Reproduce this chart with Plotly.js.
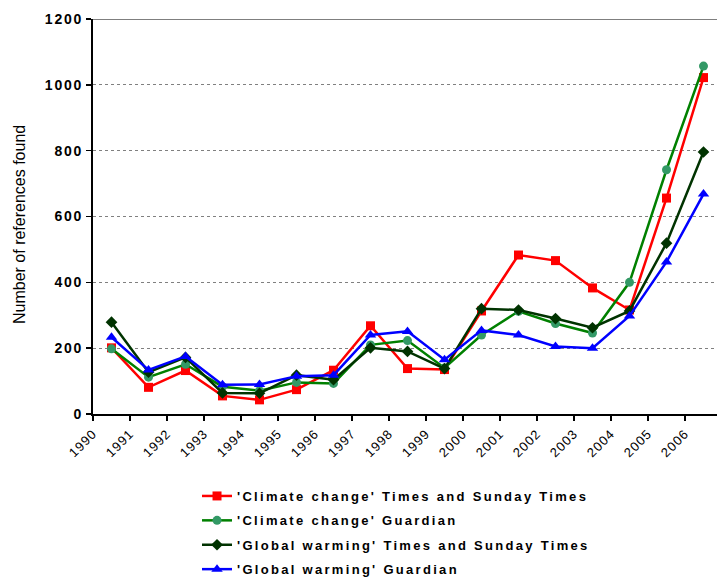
<!DOCTYPE html>
<html><head><meta charset="utf-8">
<script src="https://cdn.plot.ly/plotly-3.0.1.min.js"></script>
<style>
html,body{margin:0;padding:0;overflow:hidden;background:#fff}
#chart{width:717px;height:577px}
.legendtext{letter-spacing:2.3px}
.ytick text{letter-spacing:1.8px}
.xtick text{letter-spacing:1px}
</style></head>
<body><div id="chart"></div>
<script>
const years = [1990,1991,1992,1993,1994,1995,1996,1997,1998,1999,2000,2001,2002,2003,2004,2005,2006];
const tickLabels = years.map(String);
const ccTimes    = [201, 81, 132, 55, 43, 74, 133, 268, 138, 135, 313, 483, 466, 383, 316, 656, 1022];
const ccGuardian = [198, 112, 151, 83, 71, 96, 93, 210, 223, 140, 240, 312, 275, 246, 400, 742, 1057];
const gwTimes    = [279, 127, 172, 64, 63, 118, 104, 201, 190, 138, 320, 316, 290, 262, 313, 519, 796];
const gwGuardian = [233, 134, 175, 89, 90, 115, 118, 240, 251, 165, 254, 240, 205, 200, 298, 462, 668];
const names = ["'Climate change' Times and Sunday Times","'Climate change' Guardian","'Global warming' Times and Sunday Times","'Global warming' Guardian"];
const yTitle = 'Number of references found';

const FONT = 'Liberation Sans, Arial, sans-serif';
const xs = years.map(y => y + 0.5);
function tr(vals, name, lineColor, markerColor, symbol, size, grp){
  return {x: xs, y: vals, name: name, type:'scatter', mode:'lines+markers', legendgroup: grp,
    line:{color: lineColor, width:2.5}, marker:{color: markerColor, symbol: symbol, size: size}};
}
const data = [
  tr(ccTimes, names[0], '#FF0000', '#FF0000', 'square', 9, 'a'),
  tr(ccGuardian, names[1], '#008000', '#339966', 'circle', 9, 'b'),
  tr(gwTimes, names[2], '#003300', '#003300', 'diamond', 9, 'c'),
  tr(gwGuardian, names[3], '#0000FF', '#0000FF', 'triangle-up', 10, 'd')
];
const layout = {
  width:717, height:577,
  margin:{l:93, r:0, t:19, b:163},
  paper_bgcolor:'#fff', plot_bgcolor:'#fff',
  font:{family:FONT, color:'#000'},
  showlegend:true,
  legend:{x:0.1667, xref:'paper', y:1-481/577, yref:'container', xanchor:'left', yanchor:'top', orientation:'v',
    font:{size:13, family:FONT, weight:'bold', color:'#000'},
    itemwidth:30, tracegroupgap:4.5, bgcolor:'rgba(0,0,0,0)'},
  xaxis:{range:[1990, 2006.865], tickvals: years, ticktext: tickLabels, tickangle:-45,
    ticks:'outside', ticklen:5, tickwidth:1.5, tickcolor:'#000',
    showline:true, linecolor:'#000', linewidth:2, showgrid:false, zeroline:false,
    tickfont:{size:13, family:FONT, color:'#000'}, fixedrange:true},
  yaxis:{range:[0,1200], tickvals:[0,200,400,600,800,1000,1200], ticks:'outside', ticklen:5, tickwidth:1.5, tickcolor:'#000',
    showline:true, linecolor:'#000', linewidth:2, zeroline:false,
    showgrid:true, gridcolor:'#808080', gridwidth:1, griddash:'3px,3px',
    tickfont:{size:14, family:FONT, weight:'bold', color:'#000'}},
  annotations:[{text: yTitle, textangle:-90, xref:'paper', yref:'paper', x:(19-93)/624, y:(414-225)/395,
    xanchor:'center', yanchor:'middle', showarrow:false, font:{size:16, family:FONT, color:'#000'}}],
  shapes:[{type:'line', xref:'paper', yref:'y', x0:0, x1:1, y0:1200, y1:1200, line:{color:'#555', width:1.5}}]
};
Plotly.newPlot('chart', data, layout, {displayModeBar:false, staticPlot:true});
</script></body></html>
